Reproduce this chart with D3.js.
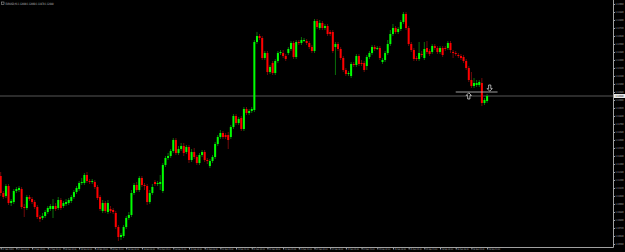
<!DOCTYPE html>
<html>
<head>
<meta charset="utf-8">
<script src="https://cdn.jsdelivr.net/npm/d3@7"></script>
<style>
  body { margin: 0; background: #000; }
  svg { display: block; background: #000; }
  text { font-family: "DejaVu Sans", sans-serif; }
</style>
</head>
<body>
<svg width="625" height="252"></svg>
<script>

// EURUSD H1 candles
var opens = [
  1.1124,1.1107,1.1104,1.1114,1.1097,1.1098,1.1109,1.1110,1.1111,1.1093,
  1.1092,1.1103,1.1101,1.1098,1.1093,1.1083,1.1082,1.1084,1.1088,1.1091,
  1.1091,1.1094,1.1092,1.1100,1.1094,1.1096,1.1097,1.1099,1.1103,1.1108,
  1.1111,1.1117,1.1117,1.1125,1.1119,1.1118,1.1118,1.1113,1.1103,1.1089,
  1.1097,1.1088,1.1091,1.1090,1.1087,1.1073,1.1063,1.1064,1.1073,1.1082,
  1.1085,1.1107,1.1115,1.1110,1.1122,1.1115,1.1114,1.1098,1.1107,1.1118,
  1.1116,1.1116,1.1109,1.1135,1.1142,1.1144,1.1149,1.1160,1.1147,1.1151,
  1.1154,1.1148,1.1153,1.1140,1.1148,1.1143,1.1137,1.1145,1.1148,1.1140,
  1.1134,1.1139,1.1143,1.1156,1.1163,1.1167,1.1165,1.1165,1.1163,1.1173,
  1.1184,1.1177,1.1182,1.1171,1.1191,1.1187,1.1189,1.1190,1.1258,1.1264,
  1.1262,1.1242,1.1247,1.1228,1.1237,1.1227,1.1239,1.1247,1.1247,1.1244,
  1.1247,1.1251,1.1257,1.1243,1.1258,1.1257,1.1259,1.1259,1.1257,1.1253,
  1.1249,1.1279,1.1272,1.1277,1.1272,1.1274,1.1268,1.1268,1.1253,1.1256,
  1.1251,1.1242,1.1230,1.1226,1.1224,1.1236,1.1235,1.1244,1.1237,1.1237,
  1.1234,1.1243,1.1247,1.1253,1.1251,1.1252,1.1238,1.1240,1.1247,1.1256,
  1.1266,1.1272,1.1268,1.1271,1.1278,1.1286,1.1272,1.1256,1.1250,1.1242,
  1.1241,1.1246,1.1242,1.1252,1.1249,1.1248,1.1254,1.1252,1.1248,1.1252,
  1.1252,1.1252,1.1257,1.1248,1.1247,1.1245,1.1244,1.1243,1.1239,1.1232,
  1.1220,1.1214,1.1215,1.1215,1.1217,1.1197,1.1199
];
var highs = [
  1.1128,1.1109,1.1116,1.1116,1.1101,1.1111,1.1113,1.1114,1.1113,1.1096,
  1.1105,1.1105,1.1103,1.1100,1.1095,1.1085,1.1087,1.1090,1.1094,1.1096,
  1.1101,1.1097,1.1103,1.1102,1.1099,1.1101,1.1102,1.1105,1.1110,1.1114,
  1.1119,1.1122,1.1127,1.1128,1.1121,1.1121,1.1120,1.1115,1.1105,1.1100,
  1.1099,1.1100,1.1094,1.1092,1.1089,1.1075,1.1067,1.1075,1.1084,1.1088,
  1.1110,1.1117,1.1118,1.1124,1.1124,1.1117,1.1116,1.1110,1.1116,1.1120,
  1.1119,1.1125,1.1137,1.1144,1.1147,1.1151,1.1162,1.1162,1.1154,1.1157,
  1.1157,1.1155,1.1155,1.1151,1.1152,1.1145,1.1147,1.1150,1.1150,1.1142,
  1.1141,1.1145,1.1158,1.1165,1.1170,1.1169,1.1167,1.1168,1.1175,1.1186,
  1.1186,1.1183,1.1184,1.1193,1.1193,1.1191,1.1193,1.1260,1.1268,1.1266,
  1.1264,1.1249,1.1249,1.1235,1.1239,1.1241,1.1249,1.1250,1.1250,1.1246,
  1.1253,1.1259,1.1259,1.1260,1.1260,1.1263,1.1262,1.1261,1.1259,1.1255,
  1.1281,1.1281,1.1280,1.1279,1.1276,1.1276,1.1270,1.1270,1.1258,1.1258,
  1.1253,1.1244,1.1232,1.1229,1.1238,1.1238,1.1246,1.1246,1.1240,1.1239,
  1.1245,1.1249,1.1255,1.1255,1.1254,1.1254,1.1242,1.1249,1.1260,1.1270,
  1.1276,1.1274,1.1273,1.1280,1.1288,1.1288,1.1274,1.1258,1.1252,1.1244,
  1.1258,1.1249,1.1258,1.1259,1.1251,1.1256,1.1256,1.1254,1.1254,1.1254,
  1.1254,1.1259,1.1259,1.1250,1.1249,1.1247,1.1246,1.1245,1.1241,1.1234,
  1.1228,1.1222,1.1220,1.1220,1.1222,1.1202,1.1206
];
var lows = [
  1.1104,1.1101,1.1102,1.1095,1.1094,1.1096,1.1107,1.1108,1.1091,1.1083,
  1.1090,1.1099,1.1096,1.1091,1.1081,1.1078,1.1080,1.1082,1.1086,1.1089,
  1.1082,1.1089,1.1090,1.1090,1.1092,1.1094,1.1095,1.1097,1.1101,1.1106,
  1.1109,1.1115,1.1115,1.1117,1.1116,1.1116,1.1111,1.1100,1.1089,1.1087,
  1.1087,1.1086,1.1087,1.1086,1.1071,1.1059,1.1060,1.1062,1.1071,1.1080,
  1.1083,1.1105,1.1108,1.1108,1.1113,1.1110,1.1095,1.1096,1.1105,1.1114,
  1.1114,1.1110,1.1107,1.1133,1.1140,1.1142,1.1147,1.1145,1.1145,1.1149,
  1.1144,1.1146,1.1137,1.1138,1.1141,1.1135,1.1135,1.1143,1.1138,1.1136,
  1.1132,1.1137,1.1141,1.1154,1.1161,1.1161,1.1161,1.1151,1.1161,1.1171,
  1.1175,1.1175,1.1169,1.1169,1.1185,1.1185,1.1187,1.1188,1.1256,1.1260,
  1.1240,1.1240,1.1225,1.1226,1.1225,1.1225,1.1237,1.1245,1.1242,1.1239,
  1.1245,1.1249,1.1241,1.1241,1.1255,1.1255,1.1258,1.1255,1.1251,1.1247,
  1.1247,1.1271,1.1270,1.1270,1.1270,1.1264,1.1264,1.1247,1.1225,1.1249,
  1.1240,1.1228,1.1224,1.1224,1.1222,1.1233,1.1233,1.1234,1.1234,1.1228,
  1.1230,1.1241,1.1245,1.1249,1.1250,1.1240,1.1236,1.1238,1.1245,1.1254,
  1.1264,1.1266,1.1266,1.1269,1.1276,1.1270,1.1254,1.1248,1.1239,1.1239,
  1.1239,1.1243,1.1240,1.1246,1.1244,1.1246,1.1250,1.1246,1.1246,1.1243,
  1.1249,1.1250,1.1247,1.1242,1.1244,1.1242,1.1240,1.1237,1.1230,1.1218,
  1.1212,1.1212,1.1213,1.1213,1.1194,1.1195,1.1197
];
var closes = [
  1.1107,1.1103,1.1114,1.1097,1.1099,1.1109,1.1111,1.1112,1.1093,1.1092,
  1.1103,1.1101,1.1098,1.1093,1.1083,1.1081,1.1084,1.1088,1.1092,1.1094,
  1.1094,1.1091,1.1100,1.1092,1.1097,1.1098,1.1100,1.1103,1.1108,1.1112,
  1.1117,1.1118,1.1125,1.1119,1.1118,1.1119,1.1113,1.1102,1.1091,1.1097,
  1.1089,1.1097,1.1089,1.1088,1.1073,1.1063,1.1065,1.1073,1.1082,1.1085,
  1.1107,1.1115,1.1110,1.1122,1.1115,1.1114,1.1098,1.1107,1.1113,1.1116,
  1.1117,1.1118,1.1135,1.1142,1.1144,1.1149,1.1160,1.1147,1.1151,1.1154,
  1.1147,1.1153,1.1140,1.1148,1.1143,1.1137,1.1145,1.1148,1.1140,1.1139,
  1.1139,1.1143,1.1156,1.1163,1.1167,1.1163,1.1163,1.1160,1.1173,1.1184,
  1.1177,1.1181,1.1171,1.1191,1.1187,1.1189,1.1191,1.1258,1.1264,1.1262,
  1.1242,1.1247,1.1228,1.1233,1.1227,1.1239,1.1247,1.1248,1.1244,1.1241,
  1.1251,1.1257,1.1243,1.1258,1.1257,1.1260,1.1260,1.1257,1.1253,1.1249,
  1.1279,1.1273,1.1277,1.1272,1.1274,1.1266,1.1266,1.1249,1.1256,1.1251,
  1.1242,1.1230,1.1226,1.1227,1.1236,1.1235,1.1244,1.1236,1.1236,1.1230,
  1.1243,1.1247,1.1253,1.1251,1.1252,1.1242,1.1240,1.1247,1.1256,1.1266,
  1.1272,1.1268,1.1271,1.1278,1.1286,1.1272,1.1256,1.1250,1.1241,1.1241,
  1.1247,1.1245,1.1251,1.1248,1.1246,1.1254,1.1252,1.1248,1.1252,1.1245,
  1.1251,1.1257,1.1250,1.1247,1.1246,1.1244,1.1242,1.1239,1.1232,1.1220,
  1.1214,1.1217,1.1217,1.1218,1.1197,1.1200,1.1204
];

var priceTicks = [
  1.1296,1.1288,1.1280,1.1272,1.1264,1.1256,1.1248,1.1240,1.1232,1.1224,
  1.1216,1.1208,1.1200,1.1192,1.1184,1.1176,1.1168,1.1160,1.1152,1.1144,
  1.1136,1.1128,1.1120,1.1112,1.1104,1.1096,1.1088,1.1080,1.1072,1.1064,1.1056
];

// one time label every 6 bars
var timeBars = [0,6,12,18,24,30,36,42,48,54,60,66,72,78,84,90,96,102,108,114,120,126,132,138,144,150,156,162,168,174,180,186];
var timeLabels = [
  "17 Feb 2020","17 Feb 09:00","17 Feb 15:00","17 Feb 21:00","18 Feb 03:00","18 Feb 09:00",
  "18 Feb 15:00","18 Feb 21:00","19 Feb 03:00","19 Feb 09:00","19 Feb 15:00","19 Feb 21:00",
  "20 Feb 03:00","20 Feb 09:00","20 Feb 15:00","20 Feb 21:00","21 Feb 03:00","21 Feb 09:00",
  "21 Feb 15:00","21 Feb 21:00","24 Feb 03:00","24 Feb 09:00","24 Feb 15:00","24 Feb 21:00",
  "25 Feb 03:00","25 Feb 09:00","25 Feb 15:00","25 Feb 21:00","26 Feb 03:00","26 Feb 09:00",
  "26 Feb 15:00","26 Feb 21:00"
];

var symbolTitle = "EURUSD,H1  1.12000 1.12060 1.11970 1.12040";
var bid = 1.1204;
var tradeLine = { from: 174, to: 190, price: 1.1208 };
var arrows = [ { bar: 179, price: 1.1208, dir: "up" }, { bar: 187, price: 1.1208, dir: "down" } ];

var svg = d3.select("svg"),
    plotRight = 613.5,
    plotBottom = 247.5;

var x = d3.scaleLinear().domain([0, 186]).range([0.7, 487.1]);
var y = d3.scaleLinear().domain([1.1053, 1.1300]).range([247, 0]);

var candles = closes.map(function(c, i) {
  return { i: i, o: opens[i], h: highs[i], l: lows[i], c: c };
});

// bid line
svg.append("line")
    .attr("x1", 0).attr("x2", plotRight)
    .attr("y1", y(bid)).attr("y2", y(bid))
    .attr("stroke", "#3a3a3a")
    .attr("stroke-width", 1.6);

// wicks
svg.append("g").selectAll("line")
  .data(candles)
  .enter().append("line")
    .attr("x1", function(d) { return x(d.i); })
    .attr("x2", function(d) { return x(d.i); })
    .attr("y1", function(d) { return y(d.h); })
    .attr("y2", function(d) { return y(d.l); })
    .attr("stroke", function(d) { return d.c >= d.o ? "#0c8c0c" : "#8c0c0c"; })
    .attr("stroke-width", 0.8);

// bodies
svg.append("g").selectAll("rect")
  .data(candles)
  .enter().append("rect")
    .attr("x", function(d) { return x(d.i) - 1; })
    .attr("width", 2)
    .attr("y", function(d) { return y(Math.max(d.o, d.c)); })
    .attr("height", function(d) { return Math.max(1, Math.abs(y(d.o) - y(d.c))); })
    .attr("fill", function(d) { return d.c >= d.o ? "#00ff00" : "#ff0000"; });

// trade line and arrows
svg.append("line")
    .attr("x1", x(tradeLine.from)).attr("x2", x(tradeLine.to))
    .attr("y1", y(tradeLine.price)).attr("y2", y(tradeLine.price))
    .attr("stroke", "#b0b0b0")
    .attr("stroke-width", 0.9);

svg.append("g").selectAll("path")
  .data(arrows)
  .enter().append("path")
    .attr("transform", function(d) {
      return "translate(" + x(d.bar) + "," + y(d.price) + ")" + (d.dir == "up" ? "" : " scale(1,-1)");
    })
    .attr("d", "M0,0.8L2.6,3.4L1.1,3.4L1.1,7L-1.1,7L-1.1,3.4L-2.6,3.4Z")
    .attr("fill", "#000")
    .attr("stroke", "#e8e8e8")
    .attr("stroke-width", 0.7);

// frame
svg.append("path")
    .attr("d", "M0," + plotBottom + "H" + plotRight + "V0")
    .attr("fill", "none")
    .attr("stroke", "#a0a0a0")
    .attr("stroke-width", 1);

// price axis
var yAxis = svg.append("g")
    .attr("transform", "translate(" + plotRight + ",0)")
    .call(d3.axisRight(y).tickValues(priceTicks).tickSize(1.5).tickPadding(0.5)
      .tickFormat(d3.format(".5f")));
yAxis.select(".domain").remove();
yAxis.selectAll("line").attr("stroke", "#a0a0a0");
yAxis.selectAll("text")
    .attr("fill", "#b0b0b0")
    .attr("font-size", 2.6)
    .attr("font-family", "DejaVu Sans")
    .attr("textLength", 8)
    .attr("lengthAdjust", "spacingAndGlyphs");

// current price tag
var tag = svg.append("g").attr("transform", "translate(" + (plotRight + 0.5) + "," + y(bid) + ")");
tag.append("rect")
    .attr("x", 0).attr("y", -2).attr("width", 11).attr("height", 4)
    .attr("fill", "#e8e8e8");
tag.append("text")
    .attr("x", 1.5).attr("y", 1)
    .attr("font-size", 2.6)
    .attr("fill", "#000")
    .attr("textLength", 8)
    .attr("lengthAdjust", "spacingAndGlyphs")
    .text(d3.format(".5f")(bid));

// time axis
var xAxis = svg.append("g")
    .attr("transform", "translate(0," + plotBottom + ")")
    .call(d3.axisBottom(x).tickValues(timeBars).tickSize(2).tickPadding(0)
      .tickFormat(function(d, i) { return timeLabels[i]; }));
xAxis.select(".domain").remove();
xAxis.selectAll("line").attr("stroke", "#a0a0a0");
xAxis.selectAll("text")
    .attr("fill", "#b0b0b0")
    .attr("font-size", 2.4)
    .attr("text-anchor", "start")
    .attr("x", 1)
    .attr("y", 1)
    .attr("textLength", 11.5)
    .attr("lengthAdjust", "spacingAndGlyphs");

// title
svg.append("rect")
    .attr("x", 1.5).attr("y", 2).attr("width", 2.5).attr("height", 2.5)
    .attr("fill", "none").attr("stroke", "#b8b8b8").attr("stroke-width", 0.5);
svg.append("text")
    .attr("x", 5.5).attr("y", 4.6)
    .attr("font-size", 3)
    .attr("fill", "#c8c8c8")
    .attr("textLength", 48)
    .attr("lengthAdjust", "spacingAndGlyphs")
    .text(symbolTitle);

</script>
</body>
</html>
